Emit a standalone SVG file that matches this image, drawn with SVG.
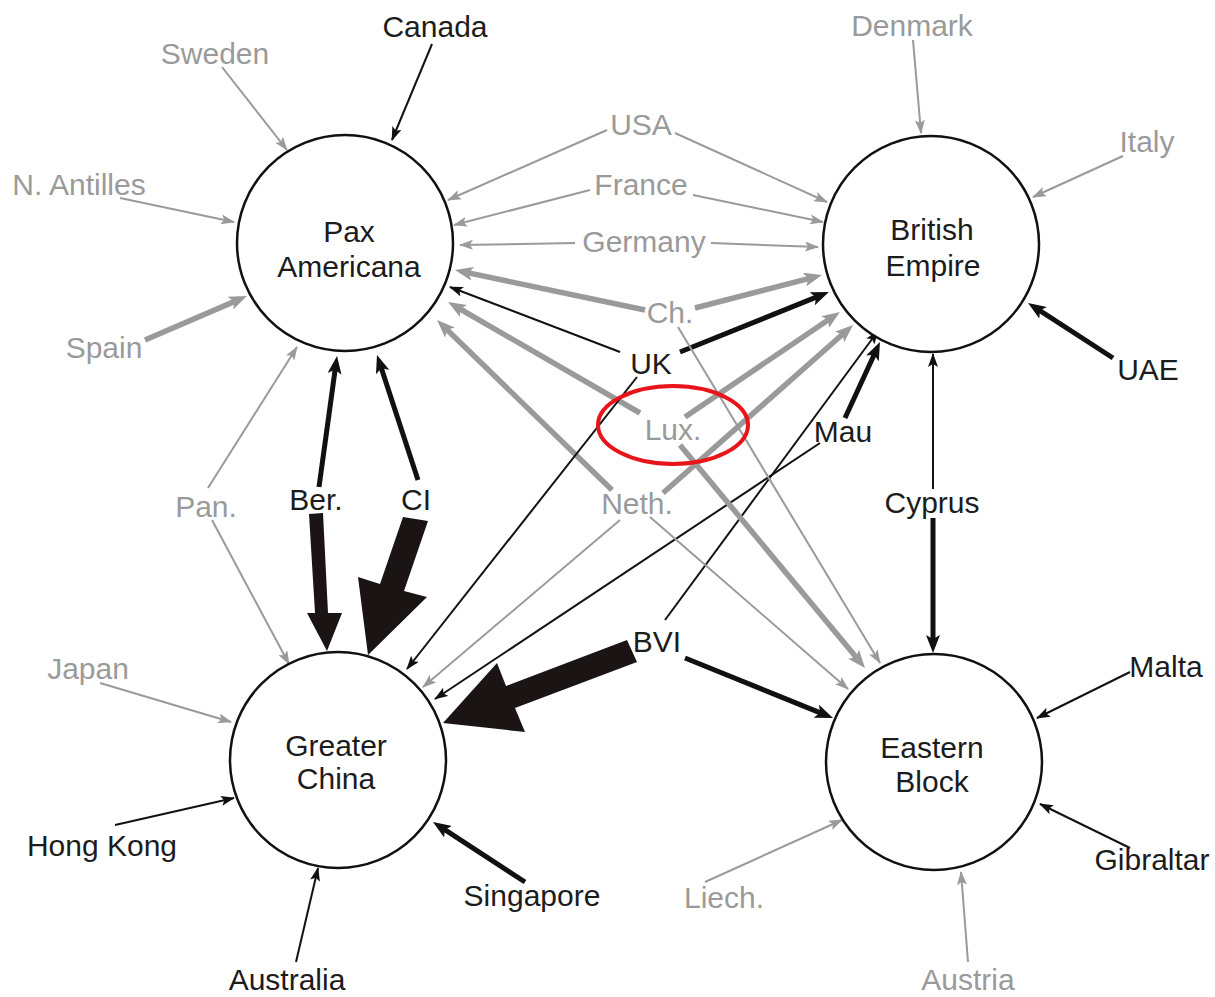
<svg xmlns="http://www.w3.org/2000/svg" width="1215" height="997" viewBox="0 0 1215 997">
  <defs>
    <style>
      text { font-family: "Liberation Sans", Arial, sans-serif; font-size: 30px; text-anchor: middle; }
      .dk { fill: #1c1c1c; }
      .lt { fill: #9a9a9a; }
      .hub { fill: #ffffff; stroke: #111; stroke-width: 2.5; }
      .k1 { stroke: #111; stroke-width: 2; fill: none; marker-end: url(#ah-k); }
      .k2 { stroke: #111; stroke-width: 5; fill: none; marker-end: url(#ah-K); }
      .k2s { stroke: #111; stroke-width: 2; fill: none; marker-end: url(#ah-k); }
      .g1 { stroke: #9a9a9a; stroke-width: 2; fill: none; marker-end: url(#ah-g); }
      .g2 { stroke: #9a9a9a; stroke-width: 5.5; fill: none; marker-end: url(#ah-G); }
      .big { fill: #1a1414; stroke: none; }
    </style>
    <marker id="ah-k" markerUnits="userSpaceOnUse" markerWidth="14" markerHeight="10" refX="13" refY="5" orient="auto">
      <path d="M0,0 L14,5 L0,10 L3,5 z" fill="#111"/>
    </marker>
    <marker id="ah-g" markerUnits="userSpaceOnUse" markerWidth="14" markerHeight="10" refX="13" refY="5" orient="auto">
      <path d="M0,0 L14,5 L0,10 L3,5 z" fill="#9a9a9a"/>
    </marker>
    <marker id="ah-K" markerUnits="userSpaceOnUse" markerWidth="18" markerHeight="14" refX="9" refY="7" orient="auto">
      <path d="M0,0 L18,7 L0,14 L4,7 z" fill="#111"/>
    </marker>
    <marker id="ah-G" markerUnits="userSpaceOnUse" markerWidth="18" markerHeight="14" refX="9" refY="7" orient="auto">
      <path d="M0,0 L18,7 L0,14 L4,7 z" fill="#9a9a9a"/>
    </marker>
  </defs>

  <rect width="1215" height="997" fill="#ffffff"/>

  <!-- flows between jurisdictions and hubs -->
  <g id="connectors">
    <!-- into Pax Americana -->
    <line class="k1" x1="432" y1="44" x2="392" y2="140"/>
    <line class="g1" x1="222" y1="67" x2="287" y2="150"/>
    <line class="g1" x1="120" y1="198" x2="234" y2="222"/>
    <line class="g2" x1="145" y1="340" x2="238.7" y2="299.6"/>
    <line class="g1" x1="208" y1="488" x2="297" y2="347"/>
    <line class="g1" x1="607" y1="130" x2="448" y2="200"/>
    <line class="g1" x1="590" y1="190" x2="454" y2="225"/>
    <line class="g1" x1="575" y1="243" x2="460" y2="245"/>
    <line class="g2" x1="645" y1="310" x2="463.8" y2="271.9"/>
    <line class="k1" x1="620" y1="352" x2="450" y2="287"/>
    <line class="g2" x1="640" y1="413" x2="455.8" y2="306.5"/>
    <line class="g2" x1="612" y1="490" x2="443.5" y2="326.3"/>
    <line class="k2" stroke-width="4" x1="319" y1="487" x2="335.8" y2="364.9"/>
    <line class="k2" x1="418" y1="480" x2="379.8" y2="363.5"/>

    <!-- into British Empire -->
    <line class="g1" x1="913" y1="40" x2="921" y2="133"/>
    <line class="g1" x1="1123" y1="156" x2="1033" y2="197"/>
    <line class="k2" x1="1113" y1="358" x2="1035.6" y2="307.9"/>
    <line class="g1" x1="675" y1="133" x2="827" y2="202"/>
    <line class="g1" x1="693" y1="195" x2="823" y2="222"/>
    <line class="g1" x1="711" y1="243" x2="818" y2="247"/>
    <line class="g2" x1="695" y1="308" x2="813.3" y2="277.3"/>
    <line class="k2" x1="680" y1="352" x2="820.6" y2="295.4"/>
    <line class="g2" x1="685" y1="417" x2="832.5" y2="317"/>
    <line class="g2" x1="663" y1="493" x2="846.3" y2="331"/>
    <line class="k1" x1="665" y1="620" x2="878" y2="331"/>
    <line class="k2" x1="845" y1="418" x2="876.2" y2="350.2"/>
    <line class="k1" x1="933" y1="489" x2="933" y2="354"/>

    <!-- into Greater China -->
    <line class="g1" x1="212" y1="520" x2="289" y2="664"/>
    <line class="k1" x1="637" y1="377" x2="407" y2="669"/>
    <line class="g1" x1="620" y1="520" x2="423" y2="687"/>
    <line class="k1" x1="820" y1="443" x2="435" y2="699"/>
    <line class="g1" x1="100" y1="683" x2="231" y2="722"/>
    <line class="k1" x1="115" y1="825" x2="234" y2="798"/>
    <line class="k1" x1="296" y1="962" x2="318" y2="868"/>
    <line class="k2" x1="525" y1="882" x2="440.5" y2="826.9"/>
    <polygon class="big" points="309,514 323,513 328,613 342,613 327,651 307,613 315,613"/>
    <polygon class="big" points="403,517 428,521 404,591 427,597 368,655 358,577 380,584"/>
    <polygon class="big" points="627,640 637,662 515,708 525,732 443,723 497,663 506,686"/>

    <!-- into Eastern Block -->
    <line class="g1" x1="678" y1="327" x2="880" y2="663"/>
    <line class="g2" x1="680" y1="445" x2="859.3" y2="661.1"/>
    <line class="g1" x1="650" y1="517" x2="848" y2="689"/>
    <line class="k2" x1="685" y1="658" x2="824.7" y2="714.6"/>
    <line class="k2" x1="933" y1="518" x2="933" y2="644"/>
    <line class="k1" x1="1130" y1="672" x2="1037" y2="718"/>
    <line class="k1" x1="1130" y1="848" x2="1040" y2="804"/>
    <line class="g1" x1="705" y1="882" x2="842" y2="820"/>
    <line class="g1" x1="968" y1="962" x2="961" y2="872"/>
  </g>

  <!-- hubs -->
  <g id="pax-americana">
    <circle class="hub" cx="345" cy="243" r="108"/>
    <text class="dk" x="349" y="242">Pax</text>
    <text class="dk" x="349" y="277">Americana</text>
  </g>
  <g id="british-empire">
    <circle class="hub" cx="931" cy="244" r="108"/>
    <text class="dk" x="932" y="240">British</text>
    <text class="dk" x="933" y="276">Empire</text>
  </g>
  <g id="greater-china">
    <circle class="hub" cx="338" cy="760" r="108"/>
    <text class="dk" x="336" y="756">Greater</text>
    <text class="dk" x="336" y="789">China</text>
  </g>
  <g id="eastern-block">
    <circle class="hub" cx="934" cy="762" r="108"/>
    <text class="dk" x="932" y="758">Eastern</text>
    <text class="dk" x="932" y="792">Block</text>
  </g>

  <!-- jurisdiction labels -->
  <g id="canada"><text class="dk" x="435" y="37">Canada</text></g>
  <g id="sweden"><text class="lt" x="215" y="64">Sweden</text></g>
  <g id="n-antilles"><text class="lt" x="79" y="195">N. Antilles</text></g>
  <g id="spain"><text class="lt" x="104" y="358">Spain</text></g>
  <g id="panama"><text class="lt" x="206" y="517">Pan.</text></g>
  <g id="bermuda"><text class="dk" x="316" y="510">Ber.</text></g>
  <g id="cayman"><text class="dk" x="416" y="510">CI</text></g>
  <g id="usa"><text class="lt" x="641" y="135">USA</text></g>
  <g id="france"><text class="lt" x="641" y="195">France</text></g>
  <g id="germany"><text class="lt" x="644" y="252">Germany</text></g>
  <g id="switzerland"><text class="lt" x="670" y="323">Ch.</text></g>
  <g id="uk"><text class="dk" x="651" y="374">UK</text></g>
  <g id="luxembourg"><text class="lt" x="673" y="440">Lux.</text></g>
  <g id="netherlands"><text class="lt" x="637" y="514">Neth.</text></g>
  <g id="mauritius"><text class="dk" x="843" y="442">Mau</text></g>
  <g id="bvi"><text class="dk" x="657" y="652">BVI</text></g>
  <g id="cyprus"><text class="dk" x="932" y="513">Cyprus</text></g>
  <g id="denmark"><text class="lt" x="912" y="36">Denmark</text></g>
  <g id="italy"><text class="lt" x="1147" y="152">Italy</text></g>
  <g id="uae"><text class="dk" x="1148" y="380">UAE</text></g>
  <g id="malta"><text class="dk" x="1166" y="677">Malta</text></g>
  <g id="gibraltar"><text class="dk" x="1152" y="870">Gibraltar</text></g>
  <g id="liechtenstein"><text class="lt" x="724" y="908">Liech.</text></g>
  <g id="austria"><text class="lt" x="968" y="990">Austria</text></g>
  <g id="japan"><text class="lt" x="88" y="679">Japan</text></g>
  <g id="hong-kong"><text class="dk" x="102" y="856">Hong Kong</text></g>
  <g id="australia"><text class="dk" x="287" y="990">Australia</text></g>
  <g id="singapore"><text class="dk" x="532" y="906">Singapore</text></g>

  <!-- highlight ring -->
  <ellipse cx="673" cy="425" rx="75" ry="39" fill="none" stroke="#e8141a" stroke-width="4"/>
</svg>
